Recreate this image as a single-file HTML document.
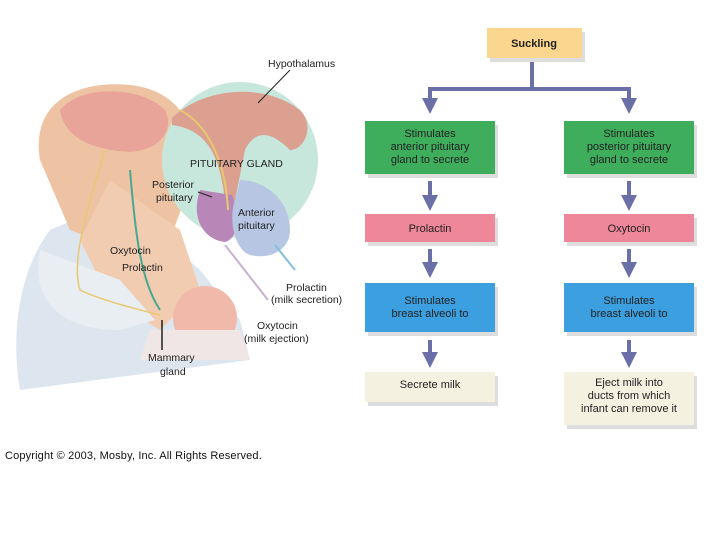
<!DOCTYPE html>
<html><head><style>
body{margin:0;background:#fff;}
svg{display:block;}
text{font-family:"Liberation Sans",sans-serif;}
</style></head><body>
<svg width="720" height="540" viewBox="0 0 720 540">
<defs>
<marker id="ah" markerWidth="4" markerHeight="4" refX="2" refY="2" orient="auto" markerUnits="strokeWidth"><path d="M0,0 L4,2 L0,4z" fill="#6b6fa8"/></marker>
</defs>
<g>
<path d="M20,390 C10,330 20,270 50,230 L120,200 L200,270 L240,320 L250,360 L20,390z" fill="#dde6ee"/>
<path d="M40,160 C30,100 80,80 130,85 C180,90 200,130 195,170 L170,240 L120,250 L70,230z" fill="#eec3a3"/>
<path d="M60,110 C80,85 140,85 165,110 C175,130 160,150 130,152 C95,150 65,140 60,110z" fill="#e9a49a"/>
<path d="M110,180 L180,230 L200,290 L160,330 L110,300 L80,240z" fill="#f2ccb0"/>
<path d="M40,250 C30,300 60,330 120,330 L155,320 L120,280z" fill="#e8eef2"/>
<circle cx="205" cy="318" r="32" fill="#f1b9a9"/>
<path d="M150,330 L240,330 L250,360 L140,360z" fill="#f0e6e6"/>
<circle cx="240" cy="160" r="78" fill="#c7e7dc"/>
<path d="M172,118 C200,90 260,80 300,110 C315,125 305,150 290,150 C270,130 255,130 245,150 L235,200 L225,200 C220,160 210,130 172,125z" fill="#dba090"/>
<path d="M200,190 C190,220 205,240 225,242 C240,238 240,210 232,195z" fill="#b887b8"/>
<path d="M240,180 C265,180 290,200 290,230 C290,250 270,260 250,255 C235,250 228,220 235,200z" fill="#b7c7e3"/>
<path d="M180,110 C200,120 225,150 228,210" stroke="#e8c870" stroke-width="2" fill="none"/>
<path d="M105,150 C90,200 70,260 80,290 C100,300 140,310 160,315" stroke="#e8c870" stroke-width="1.5" fill="none"/>
<path d="M130,170 C135,230 140,280 160,310" stroke="#4aa890" stroke-width="2" fill="none"/>
<path d="M225,245 L268,300" stroke="#c8b0d0" stroke-width="2"/>
<path d="M275,245 L295,270" stroke="#80c0e0" stroke-width="2"/>
<line x1="258" y1="103" x2="290" y2="70" stroke="#222" stroke-width="1"/>
<line x1="198" y1="192" x2="212" y2="197" stroke="#222" stroke-width="1"/>
<line x1="162" y1="320" x2="162" y2="350" stroke="#222" stroke-width="1.5"/>
</g>
<g font-size="10.5" fill="#222">
<text x="268" y="67">Hypothalamus</text>
<text x="190" y="167">PITUITARY GLAND</text>
<text x="152" y="188">Posterior</text>
<text x="156" y="201">pituitary</text>
<text x="238" y="216">Anterior</text>
<text x="238" y="229">pituitary</text>
<text x="110" y="254">Oxytocin</text>
<text x="122" y="271">Prolactin</text>
<text x="286" y="291">Prolactin</text>
<text x="271" y="303">(milk secretion)</text>
<text x="257" y="329">Oxytocin</text>
<text x="244" y="342">(milk ejection)</text>
<text x="148" y="361">Mammary</text>
<text x="160" y="375">gland</text>
</g>
<text x="5" y="459" font-size="11" letter-spacing="0.15" fill="#111">Copyright © 2003, Mosby, Inc. All Rights Reserved.</text>
<g fill="#ddd">
<rect x="490" y="32" width="95" height="30"/>
<rect x="368" y="125" width="130" height="53"/><rect x="567" y="125" width="130" height="53"/>
<rect x="368" y="218" width="130" height="28"/><rect x="567" y="218" width="130" height="28"/>
<rect x="368" y="287" width="130" height="49"/><rect x="567" y="287" width="130" height="49"/>
<rect x="368" y="376" width="130" height="30"/><rect x="567" y="376" width="130" height="53"/>
</g>
<rect x="487" y="28" width="95" height="30" fill="#fbd68e"/>
<rect x="365" y="121" width="130" height="53" fill="#3fae5c"/><rect x="564" y="121" width="130" height="53" fill="#3fae5c"/>
<rect x="365" y="214" width="130" height="28" fill="#ef879b"/><rect x="564" y="214" width="130" height="28" fill="#ef879b"/>
<rect x="365" y="283" width="130" height="49" fill="#3c9fe0"/><rect x="564" y="283" width="130" height="49" fill="#3c9fe0"/>
<rect x="365" y="372" width="130" height="30" fill="#f5f1e1"/><rect x="564" y="372" width="130" height="53" fill="#f5f1e1"/>
<g stroke="#6b6fa8" stroke-width="4" fill="none">
<path d="M532,62 V89 M430,89 H629"/>
<path d="M430,87 V106" marker-end="url(#ah)"/><path d="M629,87 V106" marker-end="url(#ah)"/>
<path d="M430,181 V203" marker-end="url(#ah)"/><path d="M629,181 V203" marker-end="url(#ah)"/>
<path d="M430,249 V270" marker-end="url(#ah)"/><path d="M629,249 V270" marker-end="url(#ah)"/>
<path d="M430,340 V360" marker-end="url(#ah)"/><path d="M629,340 V360" marker-end="url(#ah)"/>
</g>
<g font-size="11" fill="#222" text-anchor="middle">
<text x="534" y="47" font-weight="bold">Suckling</text>
<text x="430" y="137">Stimulates</text><text x="430" y="150">anterior pituitary</text><text x="430" y="163">gland to secrete</text>
<text x="629" y="137">Stimulates</text><text x="629" y="150">posterior pituitary</text><text x="629" y="163">gland to secrete</text>
<text x="430" y="232">Prolactin</text><text x="629" y="232">Oxytocin</text>
<text x="430" y="304">Stimulates</text><text x="430" y="317">breast alveoli to</text>
<text x="629" y="304">Stimulates</text><text x="629" y="317">breast alveoli to</text>
<text x="430" y="388">Secrete milk</text>
<text x="629" y="386">Eject milk into</text><text x="629" y="399">ducts from which</text><text x="629" y="412">infant can remove it</text>
</g>
</svg>
</body></html>
